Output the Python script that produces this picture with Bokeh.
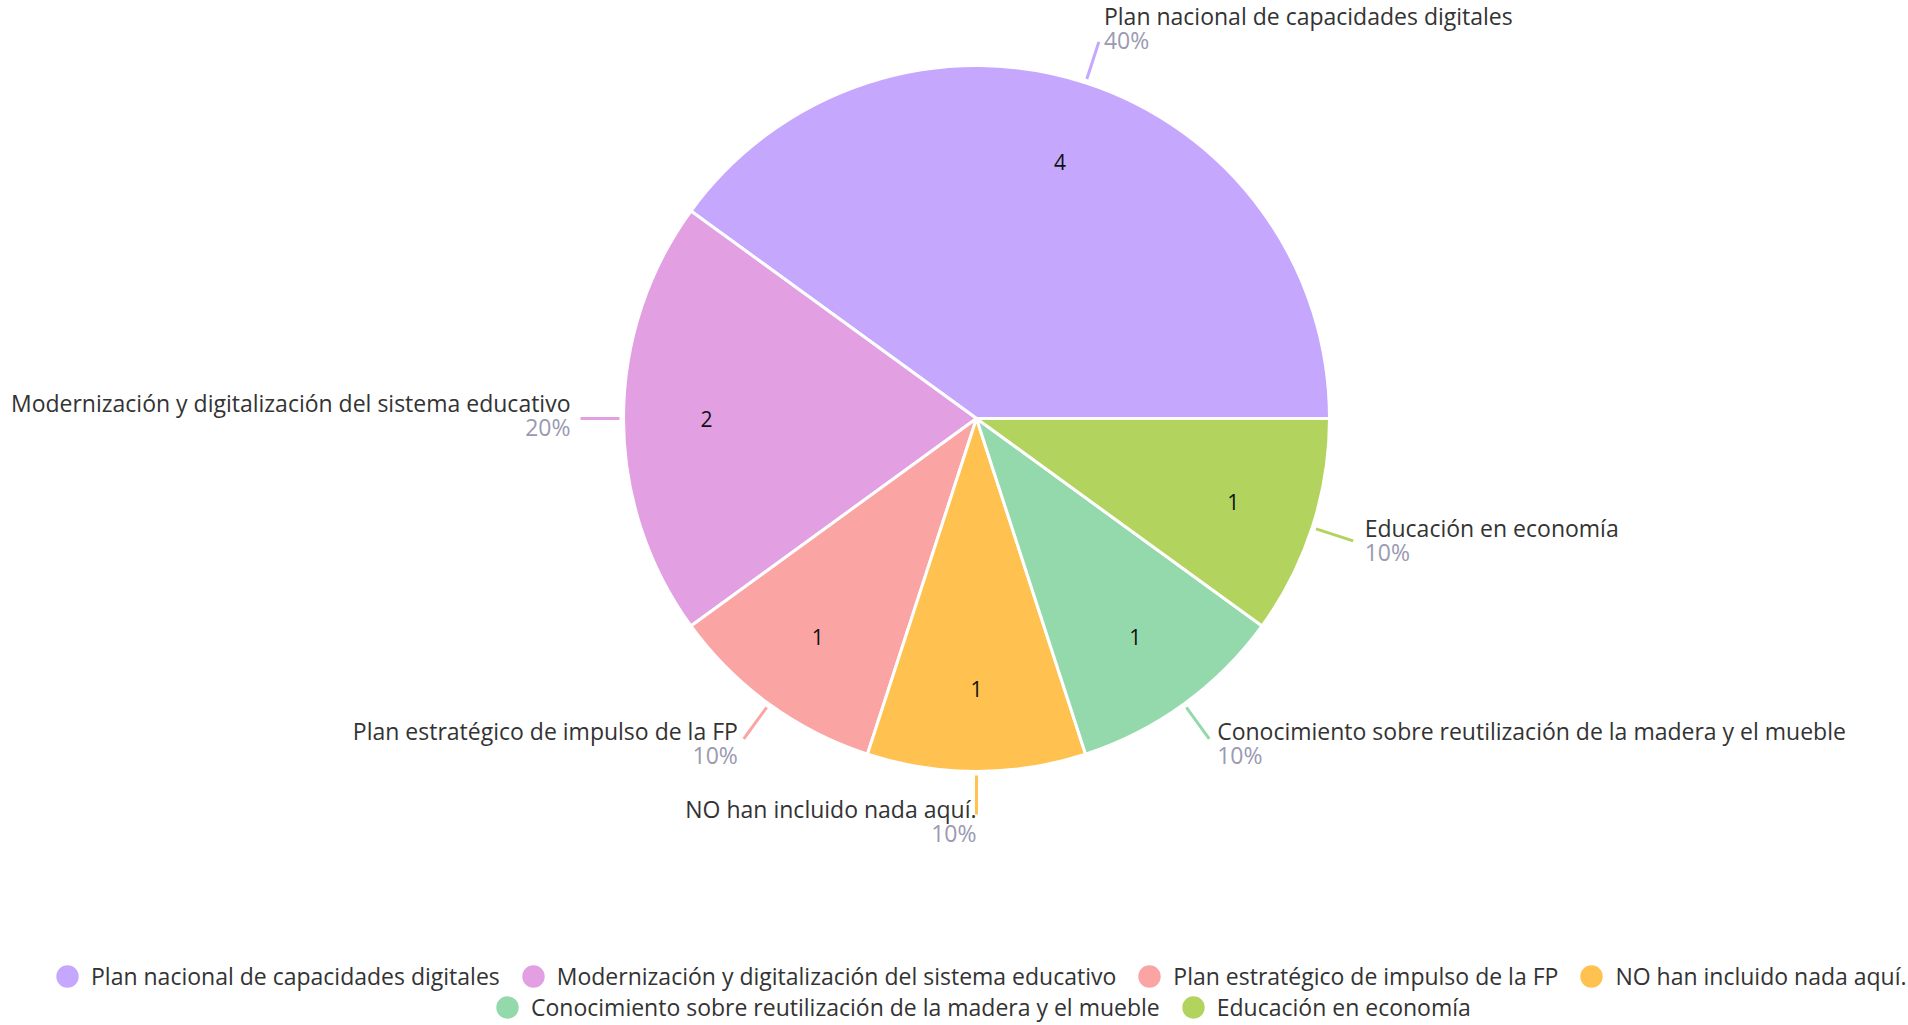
import math
from bokeh.plotting import figure
from bokeh.models import Range1d, Legend, LegendItem, ColumnDataSource
from bokeh.embed import file_html
from bokeh.resources import INLINE
from bokeh.core.properties import value

# ---- data ----
categories = [
    "Plan nacional de capacidades digitales",
    "Modernización y digitalización del sistema educativo",
    "Plan estratégico de impulso de la FP",
    "NO han incluido nada aquí.",
    "Conocimiento sobre reutilización de la madera y el mueble",
    "Educación en economía",
]
counts = [4, 2, 1, 1, 1, 1]
colors = ["#C5A8FE", "#E2A0E3", "#FBA4A4", "#FFC250", "#93D9AB", "#B2D45F"]
legend_row1 = categories[:4]
legend_row2 = categories[4:]

# ---- layout constants (page pixels) ----
W, H = 1908, 1025
CX, CY_SCREEN, R = 976, 418, 353
CY = H - CY_SCREEN
FONT = "Open Sans"
FS = "23px"
# legend rows: (left edge, bottom edge) in screen px relative to the frame
LEGEND_ROW1_POS = (53, 33)
LEGEND_ROW2_POS = (493, 2)

p = figure(width=W, height=H,
           x_range=Range1d(0, W), y_range=Range1d(0, H),
           output_backend="svg", toolbar_location=None, min_border=0,
           x_axis_location=None, y_axis_location=None)
p.grid.visible = False
p.outline_line_color = None
p.background_fill_color = "white"

total = sum(counts)
starts, ends, mids = [], [], []
acc = 0.0
for c in counts:
    a0 = acc / total * 2 * math.pi
    acc += c
    a1 = acc / total * 2 * math.pi
    starts.append(a0)
    ends.append(a1)
    mids.append((a0 + a1) / 2)

# legend swatch renderer (hidden under the pie)
ell = p.ellipse(x=[CX] * len(categories), y=[CY] * len(categories), width=1, height=1,
                fill_color=colors, line_color=None)

src = ColumnDataSource(dict(start=starts, end=ends, color=colors, cat=categories))
p.wedge(x=CX, y=CY, radius=R, start_angle="start", end_angle="end", direction="anticlock",
        fill_color="color", line_color="white", line_width=3, source=src)

# leader lines
r0, r1 = R + 4, R + 43
x0s = [CX + r0 * math.cos(m) for m in mids]
y0s = [CY + r0 * math.sin(m) for m in mids]
x1s = [CX + r1 * math.cos(m) for m in mids]
y1s = [CY + r1 * math.sin(m) for m in mids]
p.segment(x0=x0s, y0=y0s, x1=x1s, y1=y1s, line_color=colors, line_width=3)

# outside labels
pcts = [f"{round(c / total * 100)}%" for c in counts]
for i, m in enumerate(mids):
    cosm, sinm = math.cos(m), math.sin(m)
    bc = y1s[i] + 4 + 10 * sinm
    if cosm > 0.01:
        tx = x1s[i] + 10 * abs(cosm) + 2
        align = "left"
    else:
        tx = x1s[i] - 10 * abs(cosm)
        align = "right"
    p.text(x=[tx], y=[bc + 12], text=[categories[i]], text_align=align, text_baseline="middle",
           text_font=value(FONT), text_font_size=FS, text_color="#333333")
    p.text(x=[tx], y=[bc - 12], text=[pcts[i]], text_align=align, text_baseline="middle",
           text_font=value(FONT), text_font_size=FS, text_color="#9A9AB2")

# inside value labels
ri = 270
p.text(x=[CX + ri * math.cos(m) for m in mids], y=[CY + ri * math.sin(m) for m in mids],
       text=[str(c) for c in counts], text_align="center", text_baseline="middle",
       text_font=value(FONT), text_font_size="21px", text_color="#111111")


def make_legend(names, loc):
    items = [LegendItem(label=n, renderers=[ell], index=categories.index(n)) for n in names]
    lg = Legend(items=items, orientation="horizontal", location=loc, margin=0,
                padding=0, spacing=19, glyph_width=28, glyph_height=28, label_standoff=10,
                label_text_font=FONT, label_text_font_size=FS, label_text_color="#333333",
                background_fill_alpha=0, border_line_alpha=0)
    p.add_layout(lg)


make_legend(legend_row1, LEGEND_ROW1_POS)
make_legend(legend_row2, LEGEND_ROW2_POS)

open("out.html", "w").write(file_html(p, INLINE))
